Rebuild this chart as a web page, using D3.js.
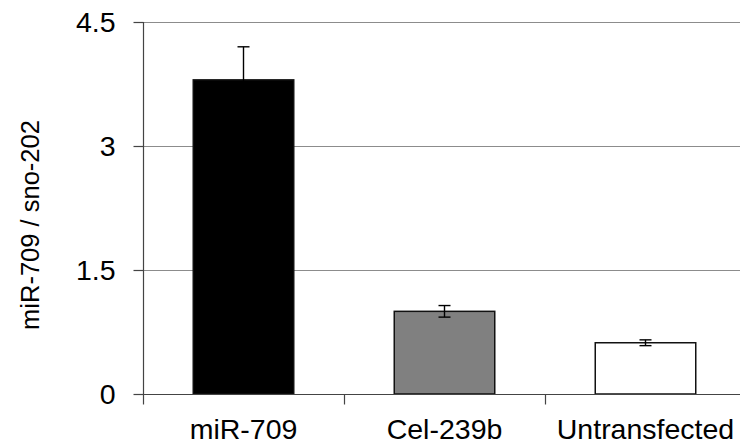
<!DOCTYPE html>
<html>
<head>
<meta charset="utf-8">
<script src="https://cdn.jsdelivr.net/npm/d3@7"></script>
<style>
  body { margin: 0; background: #fff; }
  text { font-family: "Liberation Sans", Arial, sans-serif; fill: #000; }
</style>
</head>
<body>
<svg id="chart"></svg>
<script>
// data
var categories = ["miR-709", "Cel-239b", "Untransfected"];
var values = [3.8, 1.0, 0.62];
var errors = [0.4, 0.07, 0.035];
var fills = ["#000000", "#808080", "#ffffff"];
var yTicks = [0, 1.5, 3, 4.5];

var width = 740, height = 445;
var plotLeft = 143, plotTop = 22, plotBottom = 394, plotRight = 746;

var svg = d3.select("#chart").attr("width", width).attr("height", height);

var x = d3.scaleBand().domain(categories).range([plotLeft, plotRight]).paddingInner(0).paddingOuter(0);
var y = d3.scaleLinear().domain([0, 4.5]).range([plotBottom, plotTop]);

// gridlines
svg.append("g")
  .selectAll("line")
  .data(yTicks.filter(function (d) { return d > 0; }))
  .enter()
  .append("line")
  .attr("x1", plotLeft).attr("x2", width)
  .attr("y1", function (d) { return y(d) + 0.5; })
  .attr("y2", function (d) { return y(d) + 0.5; })
  .attr("stroke", "#8c8c8c").attr("stroke-width", 1.2);

// y axis
var yAxis = svg.append("g")
  .attr("transform", "translate(" + (plotLeft + 0.5) + ",0)")
  .call(d3.axisLeft(y).tickValues(yTicks).tickSize(10).tickPadding(18)
    .tickFormat(function (d) { return d; }));
yAxis.selectAll("path, line").attr("stroke", "#444").attr("stroke-width", 1.2);
yAxis.select(".domain").attr("d", "M0," + plotBottom + "V" + plotTop);
yAxis.selectAll("text").style("font-size", "28.5px").attr("fill", "#000");

// bars
var bw = x.bandwidth() / 2;
svg.append("g")
  .selectAll("rect")
  .data(values)
  .enter()
  .append("rect")
  .attr("x", function (d, i) { return x(categories[i]) + x.bandwidth() / 2 - bw / 2; })
  .attr("y", function (d) { return y(d); })
  .attr("width", bw)
  .attr("height", function (d) { return y(0) - y(d); })
  .attr("fill", function (d, i) { return fills[i]; })
  .attr("stroke", "#111")
  .attr("stroke-width", 1.5);

// error bars
var eb = svg.append("g").attr("stroke", "#000").attr("stroke-width", 1.4);
values.forEach(function (v, i) {
  var cx = x(categories[i]) + x.bandwidth() / 2;
  var lo = v - errors[i], hi = v + errors[i];
  eb.append("line").attr("x1", cx).attr("x2", cx).attr("y1", y(lo)).attr("y2", y(hi));
  [lo, hi].forEach(function (e) {
    eb.append("line").attr("x1", cx - 6).attr("x2", cx + 6).attr("y1", y(e)).attr("y2", y(e));
  });
});

// x axis
var xAxis = svg.append("g")
  .attr("transform", "translate(0," + (plotBottom + 0.5) + ")")
  .call(d3.axisBottom(x).tickSize(0).tickPadding(24));
xAxis.select(".domain").attr("d", "M" + plotLeft + ",0H" + width).attr("stroke", "#444").attr("stroke-width", 1.2);
xAxis.selectAll("text").style("font-size", "28.5px").attr("fill", "#000");
// boundary ticks between categories
xAxis.selectAll(".sep")
  .data(categories)
  .enter()
  .append("line")
  .attr("x1", function (d) { return x(d) + 0.5; })
  .attr("x2", function (d) { return x(d) + 0.5; })
  .attr("y1", 0).attr("y2", 10)
  .attr("stroke", "#444").attr("stroke-width", 1.2);

// y axis title
svg.append("text")
  .attr("transform", "translate(39,225) rotate(-90)")
  .attr("text-anchor", "middle")
  .style("font-size", "25.5px")
  .text("miR-709 / sno-202");
</script>
</body>
</html>
